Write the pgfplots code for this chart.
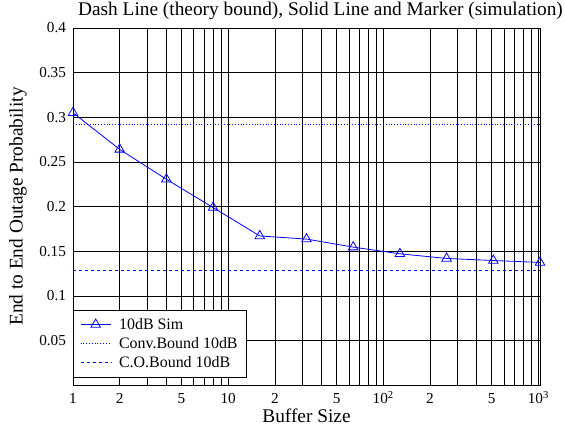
\documentclass[border=0pt]{standalone}
\usepackage{fontspec}
\setmainfont{Liberation Serif}
\usepackage{pgfplots}
\pgfplotsset{compat=1.18}
\definecolor{mblue}{RGB}{0,0,255}
\begin{document}
\begin{tikzpicture}
\begin{axis}[
  scale only axis,
  width=467bp, height=357bp,
  xmode=log,
  xmin=1, xmax=1024,
  ymin=0, ymax=0.4,
  xtick={1,2,3,4,5,6,7,8,9,10,20,30,40,50,60,70,80,90,100,200,300,400,500,600,700,800,900,1000},
  xticklabels={1,2,,,5,,,,,10,2,,,5,,,,,10\textsuperscript{2},2,,,5,,,,,10\textsuperscript{3}},
  ytick={0.05,0.1,0.15,0.2,0.25,0.3,0.35,0.4},
  yticklabels={0.05,0.1,0.15,0.2,0.25,0.3,0.35,0.4},
  tickwidth=0pt,
  grid=major,
  major grid style={black, line width=0.5bp},
  axis line style={black, line width=0.6bp},
  tick label style={font=\fontsize{15.3}{18}\selectfont},
  xticklabel style={anchor=base, yshift=-18.5bp},
  yticklabel style={anchor=east, xshift=-3.5bp},
  title={Dash Line (theory bound), Solid Line and Marker (simulation)},
  title style={font=\fontsize{19.4}{22}\selectfont, at={(axis description cs:0.53,1.018)}, anchor=base, inner sep=0pt},
  xlabel={Buffer Size},
  xlabel style={font=\fontsize{19.4}{22}\selectfont, at={(axis description cs:0.5,-0.105)}, anchor=base, inner sep=0pt},
  ylabel={End to End Outage Probability},
  ylabel style={font=\fontsize{19.4}{22}\selectfont, at={(axis description cs:-0.118,0.5)}, anchor=center},
  legend style={at={(0,0.022)}, anchor=south west, font=\fontsize{16}{19}\selectfont, draw=black, line width=0.6bp, row sep=2.5bp, inner xsep=7bp, inner ysep=6bp,
    /tikz/every odd column/.append style={column sep=6bp}},
  legend cell align=left,
  legend image code/.code={\draw[mark repeat=2,mark phase=2,#1] plot coordinates {(0bp,0bp)(15bp,0bp)(30bp,0bp)};},
  clip=false,
]
\addplot[mblue, line width=0.8bp, mark=triangle, mark size=5.5bp, mark options={solid, line width=0.8bp}] coordinates {
 (1,0.305) (2,0.264) (4,0.2305) (8,0.1988) (16,0.167) (32,0.1635)
 (64,0.1545) (128,0.147) (256,0.1418) (512,0.1395) (1024,0.1373)
};
\addlegendentry{10dB Sim}
\addplot[mblue, line width=0.8bp, dotted] coordinates {(1,0.2924) (1024,0.2924)};
\addlegendentry{Conv.Bound 10dB}
\addplot[mblue, line width=0.8bp, dashed] coordinates {(1,0.128) (1024,0.128)};
\addlegendentry{C.O.Bound 10dB}
\end{axis}
\pgfresetboundingbox
\path ([xshift=-73bp,yshift=-42bp]current axis.south west) rectangle ([xshift=25bp,yshift=28bp]current axis.north east);
\end{tikzpicture}
\end{document}
